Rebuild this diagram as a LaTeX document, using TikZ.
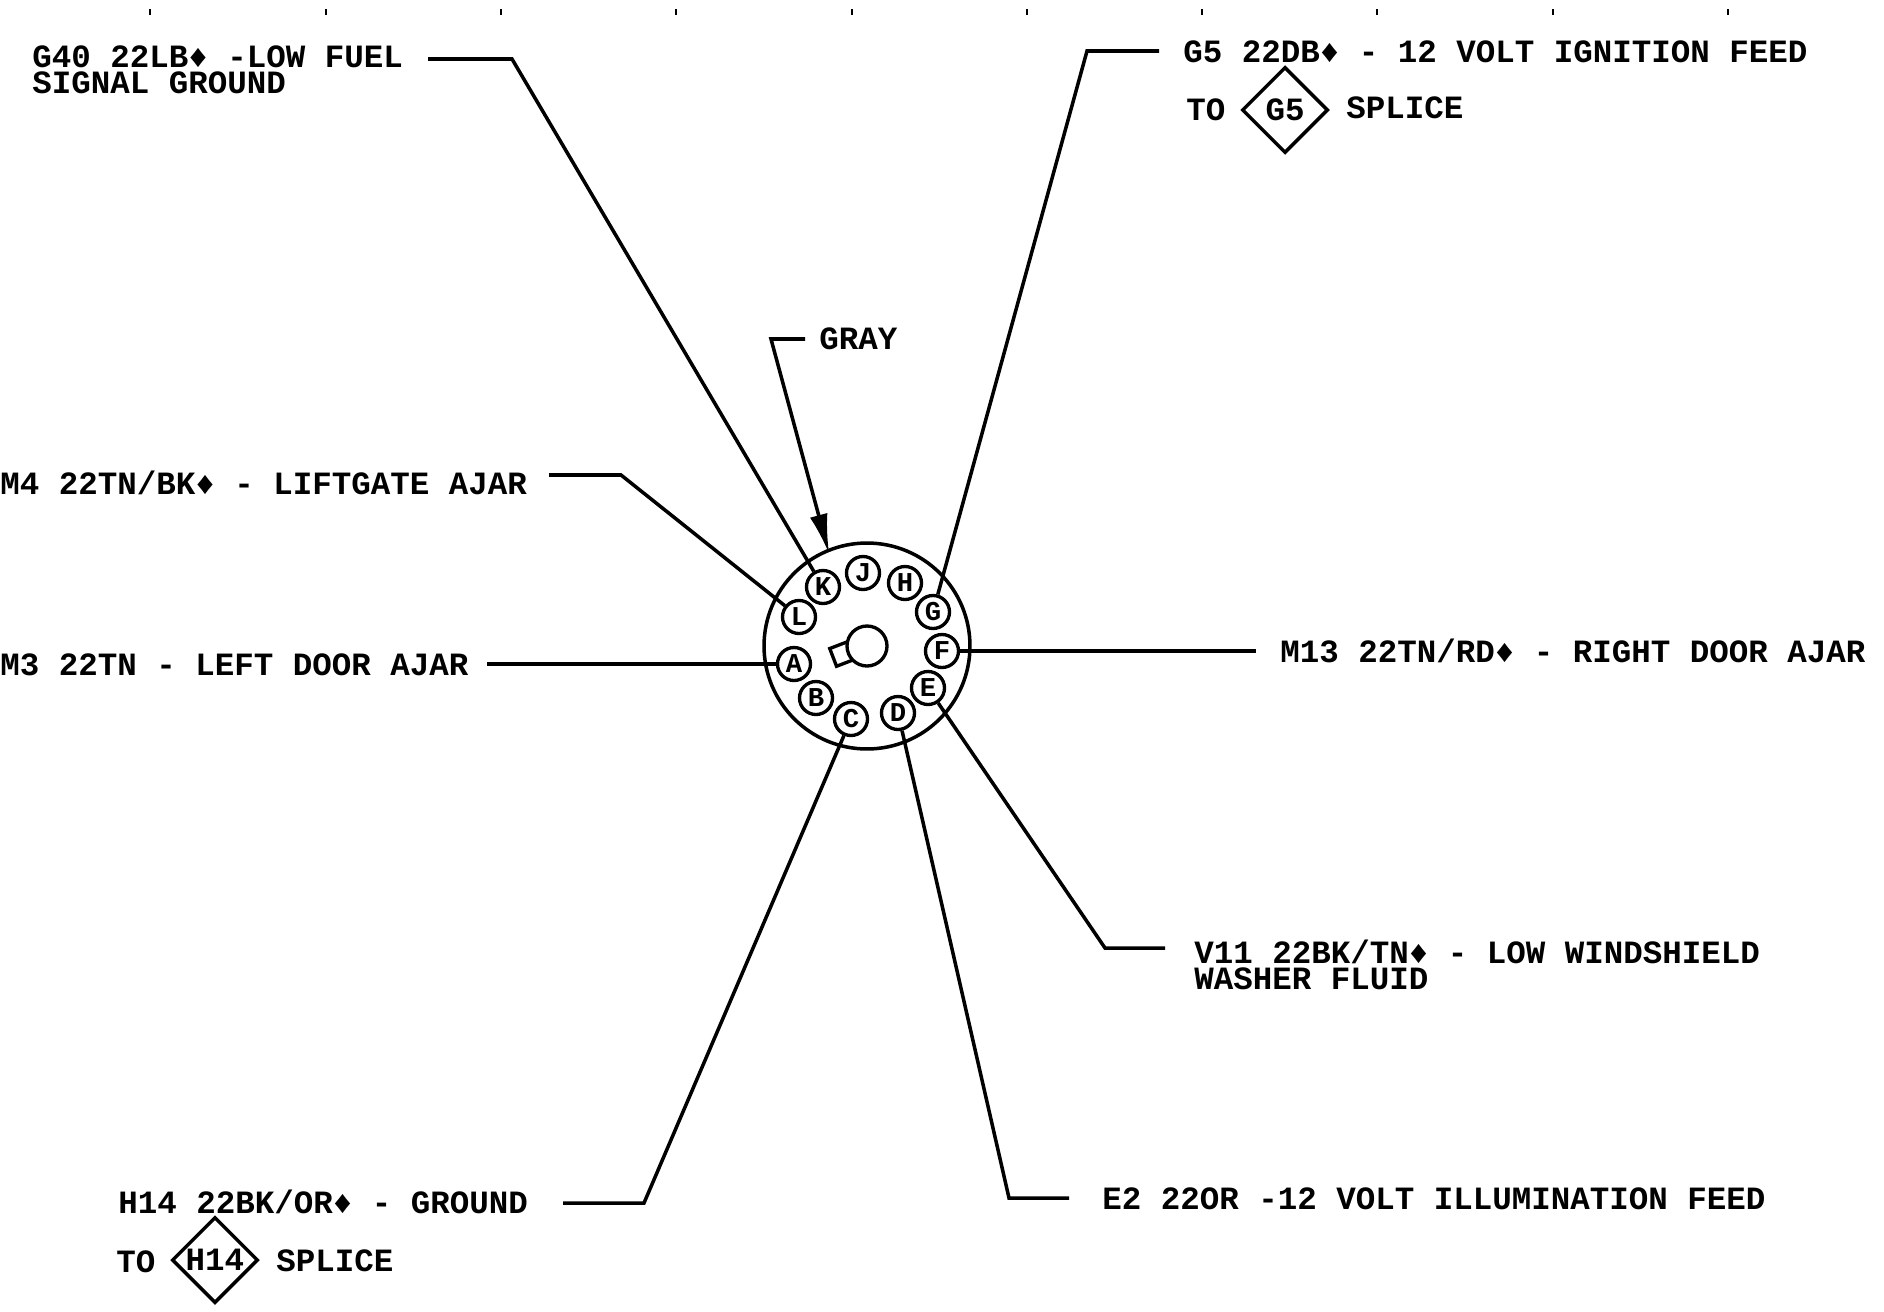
\documentclass[tikz,border=0pt]{standalone}
\usepackage{fontspec}
\setmainfont{Liberation Mono}
\usetikzlibrary{positioning,shapes.geometric,arrows.meta}
\tikzset{
  wirelabel/.style={anchor=west,inner sep=0,align=left,font=\fontsize{18.5pt}{15pt}\selectfont\bfseries},
  wire/.style={line width=2pt},
  pin/.style={draw,circle,line width=1.9pt,minimum size=0.66cm,inner sep=0,font=\fontsize{15.5pt}{15.5pt}\selectfont\bfseries},
  splice/.style={draw,diamond,line width=2pt,inner sep=0,minimum width=1.72cm,minimum height=1.72cm,font=\fontsize{18.5pt}{18.5pt}\selectfont\bfseries},
}
\begin{document}
\begin{tikzpicture}[x=0.02cm,y=-0.02cm,node distance=1em]
  \useasboundingbox (0,0) rectangle (1884,1312);
  \foreach \tickx in {150,326,501,676,852,1027,1202,1377,1553,1728}
    \draw[line width=0.7pt] (\tickx,9) -- (\tickx,15);
  % connector
  \node(hub)[draw,circle,line width=2pt,minimum size=4.12cm,inner sep=0] at (867,646) {};
  \node(key)[draw,line width=1.9pt,minimum size=0.38cm,inner sep=0,rotate=21] at (842,654) {};
  \node(hole)[draw,circle,fill=white,line width=1.9pt,minimum size=0.8cm,inner sep=0] at (867,646) {};
  \node(pinA)[pin] at (794,664) {A};
  \node(pinB)[pin] at (816,698) {B};
  \node(pinC)[pin] at (851,719) {C};
  \node(pinD)[pin] at (898,713) {D};
  \node(pinE)[pin] at (928,688) {E};
  \node(pinF)[pin] at (942,651) {F};
  \node(pinG)[pin] at (933,612) {G};
  \node(pinH)[pin] at (905,583) {H};
  \node(pinJ)[pin] at (863,573) {J};
  \node(pinK)[pin] at (823,587) {K};
  \node(pinL)[pin] at (799,617) {L};
  % labels
  \node(g40)[wirelabel] at (32,70) {G40 22LB♦ -LOW FUEL\\SIGNAL GROUND};
  \node(g5)[wirelabel] at (1183,52) {G5 22DB♦ - 12 VOLT IGNITION FEED};
  \node(g5to)[wirelabel] at (1186,110) {TO};
  \node(g5mark)[splice] at (1285,110) {G5};
  \node(g5splice)[wirelabel] at (1346,108) {SPLICE};
  \node(gray)[wirelabel] at (819,339) {GRAY};
  \node(m4)[wirelabel] at (0,483) {M4 22TN/BK♦ - LIFTGATE AJAR};
  \node(m3)[wirelabel] at (0,665) {M3 22TN - LEFT DOOR AJAR};
  \node(m13)[wirelabel] at (1280,651) {M13 22TN/RD♦ - RIGHT DOOR AJAR};
  \node(v11)[wirelabel] at (1194,965) {V11 22BK/TN♦ - LOW WINDSHIELD\\WASHER FLUID};
  \node(e2)[wirelabel] at (1102,1199) {E2 22OR -12 VOLT ILLUMINATION FEED};
  \node(h14)[wirelabel] at (118,1202) {H14 22BK/OR♦ - GROUND};
  \node(h14to)[wirelabel] at (116,1262) {TO};
  \node(h14mark)[splice] at (215,1260) {H14};
  \node(h14splice)[wirelabel] at (276,1261) {SPLICE};
  % wire ends
  \node(g40s)[coordinate] at (428,59) {};
  \node(g40e)[coordinate] at (512,59) {};
  \node(g5s)[coordinate] at (1159,51) {};
  \node(g5e)[coordinate] at (1087,51) {};
  \node(grays)[coordinate] at (805,339) {};
  \node(graye)[coordinate] at (771,339) {};
  \node(m4s)[coordinate] at (549,475) {};
  \node(m4e)[coordinate] at (621,475) {};
  \node(m3s)[coordinate] at (487,664) {};
  \node(m13s)[coordinate] at (1256,651) {};
  \node(v11s)[coordinate] at (1165,948) {};
  \node(v11e)[coordinate] at (1105,948) {};
  \node(e2s)[coordinate] at (1069,1198) {};
  \node(e2e)[coordinate] at (1009,1198) {};
  \node(h14s)[coordinate] at (563,1203) {};
  \node(h14e)[coordinate] at (644,1203) {};
  % wires
  \draw[wire] (g40s) -- (g40e) -- (pinK);
  \draw[wire] (g5s) -- (g5e) -- (pinG);
  \draw[wire,shorten >=-3pt,-{Latex[length=0.8cm,width=0.36cm]}] (grays) -- (graye) -- (hub.112);
  \draw[wire] (m4s) -- (m4e) -- (pinL);
  \draw[wire] (m3s) -- (pinA);
  \draw[wire] (m13s) -- (pinF);
  \draw[wire] (v11s) -- (v11e) -- (pinE);
  \draw[wire] (e2s) -- (e2e) -- (pinD);
  \draw[wire] (h14s) -- (h14e) -- (pinC);
\end{tikzpicture}
\end{document}
